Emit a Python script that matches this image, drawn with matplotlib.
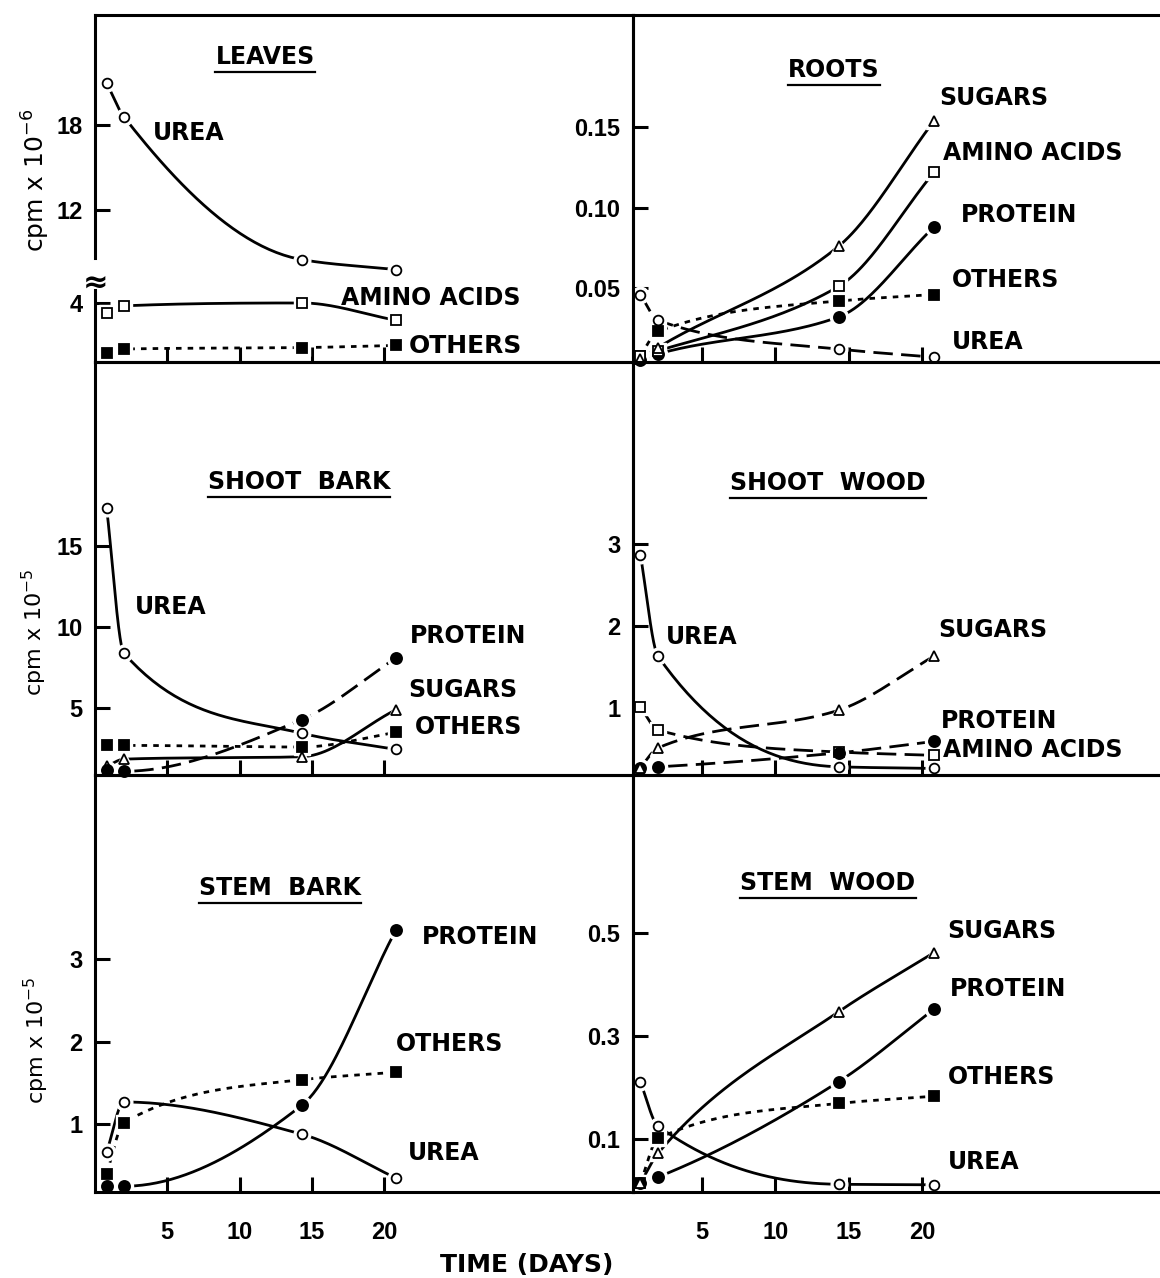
import numpy as np
import matplotlib
matplotlib.use("Agg")
import matplotlib.pyplot as plt
from matplotlib import font_manager as fm
from matplotlib.lines import Line2D

# ---- values ----
days = [0.8, 2.0, 14.3, 20.8]

leaves_urea = [21.0, 18.6, 8.5, 7.8]          # cpm x 10^-6, above the break
leaves_amino = [3.3, 3.8, 4.0, 2.8]
leaves_others = [0.5, 0.8, 0.9, 1.05]

roots_sugars = [0.006, 0.013, 0.076, 0.154]
roots_amino = [0.008, 0.011, 0.051, 0.122]
roots_protein = [0.005, 0.009, 0.032, 0.088]
roots_others = [0.008, 0.023, 0.042, 0.046]
roots_urea = [0.046, 0.030, 0.012, 0.007]

sbark_urea = [17.4, 8.4, 3.45, 2.45]          # cpm x 10^-5
sbark_protein = [1.2, 1.1, 4.3, 8.1]
sbark_sugars = [1.4, 1.85, 2.0, 4.9]
sbark_others = [2.7, 2.7, 2.6, 3.5]

swood_urea = [2.87, 1.63, 0.28, 0.26]
swood_sugars = [0.27, 0.51, 0.97, 1.63]
swood_protein = [0.27, 0.28, 0.45, 0.59]
swood_amino = [1.01, 0.73, 0.46, 0.42]

stbark_protein = [0.25, 0.25, 1.23, 3.35]
stbark_others = [0.40, 1.02, 1.54, 1.63]
stbark_urea = [0.66, 1.27, 0.88, 0.35]

stwood_sugars = [0.014, 0.072, 0.347, 0.462]
stwood_protein = [0.014, 0.026, 0.211, 0.352]
stwood_others = [0.014, 0.101, 0.169, 0.183]
stwood_urea = [0.211, 0.125, 0.012, 0.011]

day_ticks = [5, 10, 15, 20]

# ---- fonts ----
installed = {f.name for f in fm.fontManager.ttflist}
num_font = "Liberation Sans Narrow" if "Liberation Sans Narrow" in installed else "Liberation Sans"
plt.rcParams["font.family"] = ["DejaVu Sans"]
plt.rcParams["mathtext.fontset"] = "dejavusans"

W, H = 1160, 1278
fig = plt.figure(figsize=(W / 100, H / 100), dpi=100)


def box(x0, y0, x1, y1):
    # pixel box measured from the top-left corner
    return [x0 / W, 1 - y1 / H, (x1 - x0) / W, (y1 - y0) / H]


XL, XM, XR = 95, 633, 1160
LEFT_X = (0, 37.2)
RIGHT_X = (0.3, 36.2)

ax_lv_top = fig.add_axes(box(XL, 15, XM, 278))
ax_lv_bot = fig.add_axes(box(XL, 290, XM, 362))
ax_rt = fig.add_axes(box(XM, 15, XR, 362))
ax_sb = fig.add_axes(box(XL, 362, XM, 775))
ax_sw = fig.add_axes(box(XM, 362, XR, 775))
ax_stb = fig.add_axes(box(XL, 775, XM, 1192))
ax_stw = fig.add_axes(box(XM, 775, XR, 1192))


def smooth(x, y, n=50):
    # monotone cubic through the points, only for drawing the curve
    x = np.asarray(x, float)
    y = np.asarray(y, float)
    h = np.diff(x)
    d = np.diff(y) / h
    m = np.zeros_like(x)
    m[0], m[-1] = d[0], d[-1]
    for k in range(1, len(x) - 1):
        if d[k - 1] * d[k] > 0:
            w1 = 2 * h[k] + h[k - 1]
            w2 = h[k] + 2 * h[k - 1]
            m[k] = (w1 + w2) / (w1 / d[k - 1] + w2 / d[k])
    xs, ys = [], []
    t = np.linspace(0, 1, n)
    for k in range(len(x) - 1):
        h00 = 2 * t**3 - 3 * t**2 + 1
        h10 = t**3 - 2 * t**2 + t
        h01 = -2 * t**3 + 3 * t**2
        h11 = t**3 - t**2
        xs.append(x[k] + t * h[k])
        ys.append(h00 * y[k] + h10 * h[k] * m[k] + h01 * y[k + 1] + h11 * h[k] * m[k + 1])
    return np.concatenate(xs), np.concatenate(ys)


MARK = {
    "urea": ("o", "white", 7),
    "amino": ("s", "white", 6.5),
    "protein": ("o", "black", 8),
    "others": ("s", "black", 7),
    "sugars": ("^", "white", 6.5),
}
DASH = (0, (7, 3))
DOT = (0, (2, 2.2))


def series(ax, y, kind, ls="-"):
    xs, ys = smooth(days, y)
    ax.plot(xs, ys, color="black", lw=2.0, ls=ls, zorder=2.1)
    mk, fc, ms = MARK[kind]
    ax.plot(days, y, ls="none", marker=mk, ms=ms + 5, mfc="white", mec="white",
            zorder=2.2, clip_on=False)
    ax.plot(days, y, ls="none", marker=mk, ms=ms, mfc=fc, mec="black", mew=1.3,
            zorder=3, clip_on=False)


def frame(ax, xlim, ylim, yticks, ylabels, xlabels=False):
    ax.set_xlim(xlim)
    ax.set_ylim(ylim)
    ax.patch.set_visible(False)
    ax.set_xticks(day_ticks)
    ax.set_yticks(yticks)
    ax.set_yticklabels(ylabels)
    if xlabels:
        ax.set_xticklabels([str(d) for d in day_ticks])
    ax.tick_params(direction="in", length=11, width=2.2, labelsize=17,
                   labelbottom=xlabels, pad=9)
    ax.tick_params(axis="x", pad=21)
    for lab in ax.get_xticklabels() + ax.get_yticklabels():
        lab.set_fontfamily(num_font)
        lab.set_fontweight("bold")
    for sp in ax.spines.values():
        sp.set_linewidth(2.2)


# LEAVES (broken axis)
series(ax_lv_top, leaves_urea, "urea")
frame(ax_lv_top, LEFT_X, (7.2, 25.8), [12, 18], ["12", "18"])
ax_lv_top.set_xticks([])
ax_lv_top.spines["bottom"].set_visible(False)
ax_lv_top.spines["left"].set_bounds(8.6, 25.8)

series(ax_lv_bot, leaves_amino, "amino")
series(ax_lv_bot, leaves_others, "others", DOT)
frame(ax_lv_bot, LEFT_X, (-0.1, 4.9), [4], ["4"])
ax_lv_bot.spines["top"].set_visible(False)

# ROOTS
series(ax_rt, roots_urea, "urea", DASH)
series(ax_rt, roots_others, "others", DOT)
series(ax_rt, roots_protein, "protein")
series(ax_rt, roots_amino, "amino")
series(ax_rt, roots_sugars, "sugars")
frame(ax_rt, RIGHT_X, (0.004, 0.22), [0.05, 0.10, 0.15], ["0.05", "0.10", "0.15"])

# SHOOT BARK
series(ax_sb, sbark_others, "others", DOT)
series(ax_sb, sbark_sugars, "sugars")
series(ax_sb, sbark_protein, "protein", DASH)
series(ax_sb, sbark_urea, "urea")
frame(ax_sb, LEFT_X, (0.87, 26.4), [5, 10, 15], ["5", "10", "15"])

# SHOOT WOOD
series(ax_sw, swood_amino, "amino", DASH)
series(ax_sw, swood_protein, "protein", DASH)
series(ax_sw, swood_sugars, "sugars", DASH)
series(ax_sw, swood_urea, "urea")
frame(ax_sw, RIGHT_X, (0.18, 5.22), [1, 2, 3], ["1", "2", "3"])

# STEM BARK
series(ax_stb, stbark_others, "others", DOT)
series(ax_stb, stbark_urea, "urea")
series(ax_stb, stbark_protein, "protein")
frame(ax_stb, LEFT_X, (0.18, 5.23), [1, 2, 3], ["1", "2", "3"], xlabels=True)

# STEM WOOD
series(ax_stw, stwood_others, "others", DOT)
series(ax_stw, stwood_urea, "urea")
series(ax_stw, stwood_protein, "protein")
series(ax_stw, stwood_sugars, "sugars")
frame(ax_stw, RIGHT_X, (-0.003, 0.807), [0.1, 0.3, 0.5], ["0.1", "0.3", "0.5"], xlabels=True)

for ax in [ax_rt, ax_sw, ax_stw]:
    ax.spines["right"].set_visible(False)

# ---- text ----
def lab(x, y, s, size=17, weight="bold"):
    return fig.text(x / W, 1 - y / H, s, ha="left", va="center",
                    fontsize=size, fontweight=weight)


titles = []
for xc, yc, s in [(265, 57, "LEAVES"), (834, 70, "ROOTS"),
                  (299, 482, "SHOOT  BARK"), (828, 483, "SHOOT  WOOD"),
                  (280, 888, "STEM  BARK"), (828, 883, "STEM  WOOD")]:
    titles.append(fig.text(xc / W, 1 - yc / H, s, ha="center", va="center",
                           fontsize=17, fontweight="bold"))

lab(153, 133, "UREA")
lab(341, 298, "AMINO ACIDS")
lab(409, 346, "OTHERS", size=18)

lab(939, 98, "SUGARS")
lab(943, 153, "AMINO ACIDS")
lab(961, 215, "PROTEIN")
lab(952, 280, "OTHERS")
lab(952, 342, "UREA")

lab(135, 607, "UREA")
lab(410, 636, "PROTEIN")
lab(408, 690, "SUGARS")
lab(415, 727, "OTHERS")

lab(666, 637, "UREA")
lab(938, 630, "SUGARS")
lab(941, 721, "PROTEIN")
lab(943, 750, "AMINO ACIDS")

lab(422, 937, "PROTEIN")
lab(396, 1044, "OTHERS")
lab(408, 1153, "UREA")

lab(947, 931, "SUGARS")
lab(950, 989, "PROTEIN")
lab(948, 1077, "OTHERS")
lab(948, 1162, "UREA")

# axis break mark on the leaves panel
fig.text(95 / W, 1 - 284 / H, "\u2248", ha="center", va="center", fontsize=22,
         fontweight="bold")

fig.text(36 / W, 1 - 180 / H, r"cpm x 10$^{-6}$", rotation=90, ha="center",
         va="center", fontsize=18)
fig.text(34 / W, 1 - 632 / H, r"cpm x 10$^{-5}$", rotation=90, ha="center",
         va="center", fontsize=16)
fig.text(36 / W, 1 - 1040 / H, r"cpm x 10$^{-5}$", rotation=90, ha="center",
         va="center", fontsize=16)
fig.text(527 / W, 1 - 1265 / H, "TIME (DAYS)", ha="center", va="center",
         fontsize=18, fontweight="bold")

# underline the panel titles
fig.canvas.draw()
renderer = fig.canvas.get_renderer()
for t in titles:
    bb = t.get_window_extent(renderer)
    yl = (bb.y0 - 3) / H
    fig.add_artist(Line2D([bb.x0 / W, bb.x1 / W], [yl, yl], transform=fig.transFigure,
                          color="black", lw=1.6))

fig.savefig("out.png", dpi=100)
